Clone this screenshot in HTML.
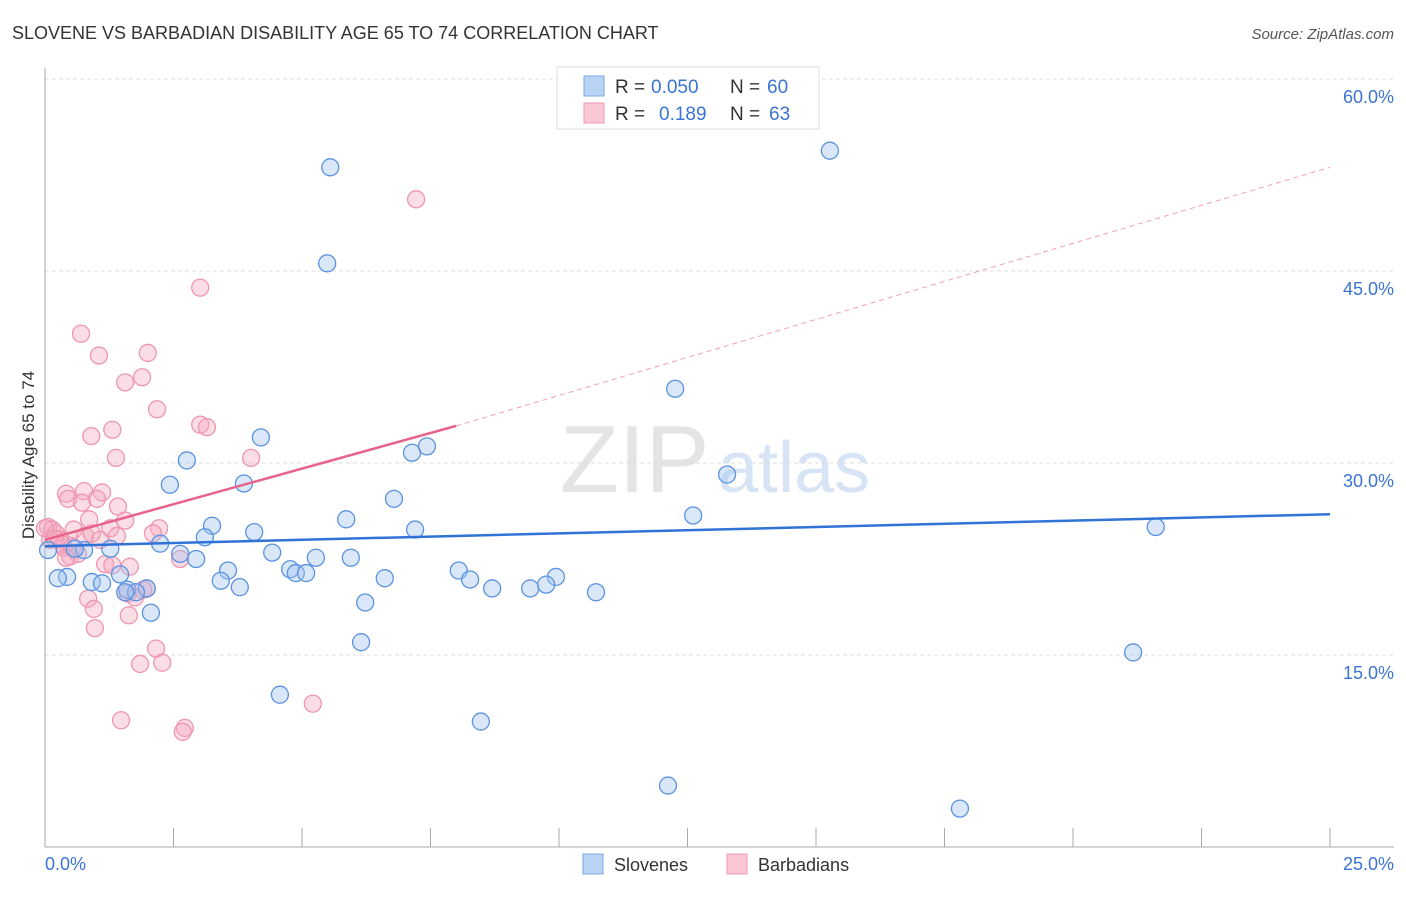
<!DOCTYPE html>
<html><head><meta charset="utf-8"><style>
body{margin:0;background:#fff;font-family:"Liberation Sans",sans-serif;}
svg text{font-family:"Liberation Sans",sans-serif;}
</style></head><body>
<svg id="chart" width="1406" height="892">
<text x="12" y="39" font-size="18" fill="#333">SLOVENE VS BARBADIAN DISABILITY AGE 65 TO 74 CORRELATION CHART</text>
<text x="1394" y="39" font-size="15" fill="#555" font-style="italic" text-anchor="end">Source: ZipAtlas.com</text>
<text x="560" y="492" font-size="96" fill="#e4e4e4" font-family="Liberation Serif">ZIP</text>
<text x="718" y="492" font-size="72" fill="#d6e4f5">atlas</text>
<g id="grid"></g><g id="pts"></g><g id="lines"></g>
<text x="34" y="455" font-size="17" fill="#333" transform="rotate(-90 34 455)" text-anchor="middle">Disability Age 65 to 74</text>
<text x="45" y="870" font-size="18" fill="#3b74d1">0.0%</text>
<text x="1394" y="870" font-size="18" fill="#3b74d1" text-anchor="end">25.0%</text>
<g>
<rect x="557" y="67" width="262" height="62" fill="#fff" stroke="#ddd"/>
<rect x="584" y="76" width="20" height="20" fill="#b9d3f5" stroke="#7aa7e6"/>
<rect x="584" y="103" width="20" height="20" fill="#f9c6d4" stroke="#ef9ab2"/>
<text x="615" y="93" font-size="19" fill="#333">R =</text>
<text x="651" y="93" font-size="19" fill="#3b74d1">0.050</text>
<text x="730" y="93" font-size="19" fill="#333">N =</text>
<text x="767" y="93" font-size="19" fill="#3b74d1">60</text>
<text x="615" y="120" font-size="19" fill="#333">R =</text>
<text x="659" y="120" font-size="19" fill="#3b74d1">0.189</text>
<text x="730" y="120" font-size="19" fill="#333">N =</text>
<text x="769" y="120" font-size="19" fill="#3b74d1">63</text>
</g>
<g>
<rect x="583" y="854" width="20" height="20" fill="#b9d3f5" stroke="#7aa7e6"/>
<text x="614" y="871" font-size="18" fill="#333">Slovenes</text>
<rect x="727" y="854" width="20" height="20" fill="#f9c6d4" stroke="#ef9ab2"/>
<text x="758" y="871" font-size="18" fill="#333">Barbadians</text>
</g>
</svg>
<script>
const yTicks=[15,30,45,60];
const blueX=[5.55,15.27,5.49,12.26,4.2,7.43,7.14,2.76,13.27,2.43,3.87,6.79,12.61,5.86,3.25,7.2,21.61,4.07,3.11,2.24,1.27,0.76,4.42,2.63,5.27,5.95,2.94,3.56,4.77,8.05,4.88,5.08,0.43,0.25,1.46,8.27,6.61,9.94,3.42,0.91,1.11,3.79,1.98,1.6,1.77,8.7,9.44,9.75,10.72,6.23,2.06,6.15,21.17,4.57,8.48,12.12,17.8,0.06,0.58,1.56];
const blueY=[53.1,54.4,45.6,35.8,32.0,31.3,30.8,30.2,29.1,28.3,28.4,27.2,25.9,25.6,25.1,24.8,25.0,24.6,24.2,23.7,23.3,23.2,23.0,22.9,22.6,22.6,22.5,21.6,21.7,21.6,21.4,21.4,21.1,21.0,21.3,20.9,21.0,21.1,20.8,20.7,20.6,20.3,20.2,20.1,19.9,20.2,20.2,20.5,19.9,19.1,18.3,16.0,15.2,11.9,9.8,4.8,3.0,23.2,23.3,19.9];
const pinkX=[7.22,3.02,0.7,1.05,2.0,1.89,1.56,2.18,3.02,3.15,1.31,0.9,1.38,4.01,0.41,0.76,1.11,1.01,0.45,0.72,1.42,1.56,0.86,1.27,2.22,2.1,0.06,0.14,0.21,0.56,1.4,0.78,0.29,2.63,0.37,0.64,0.49,1.17,1.31,1.65,1.61,1.98,0.84,0.95,0.97,1.63,2.16,1.85,2.28,1.48,5.21,2.72,2.68,0.1,0.35,0.53,0,0.19,1.07,0.41,0.91,1.75,1.91];
const pinkY=[50.6,43.7,40.1,38.4,38.6,36.7,36.3,34.2,33.0,32.8,32.6,32.1,30.4,30.4,27.6,27.8,27.7,27.2,27.2,26.9,26.6,25.5,25.6,24.9,24.9,24.5,25.0,24.8,24.5,24.8,24.3,24.3,24.0,22.5,23.4,22.9,22.7,22.1,22.0,21.9,19.8,20.2,19.4,18.6,17.1,18.1,15.5,14.3,14.4,9.9,11.2,9.3,9.0,24.0,23.6,23.4,24.9,24.1,24.0,22.6,24.5,19.5,20.1];
const blueFit=[23.5,26.0];
const pinkFit=[24.0,32.9,53.1];
const NS='http://www.w3.org/2000/svg';
const xs=v=>45+v*51.4, ys=v=>847-v*12.8;
function mk(t,a,p){const e=document.createElementNS(NS,t);for(const k in a)e.setAttribute(k,a[k]);p.appendChild(e);return e;}
const grid=document.getElementById('grid');
for(const t of yTicks){
 const l=mk('line',{x1:45,x2:1394,y1:ys(t),y2:ys(t),stroke:'#ddd','stroke-dasharray':'4,3'},grid);
 
 
 const tx=mk('text',{x:1394,y:ys(t)+24,'font-size':18,fill:'#3b74d1','text-anchor':'end'},grid);
 tx.textContent=t.toFixed(1)+'%';
 
 
}
const ax=mk('line',{x1:45,x2:45,y1:68,y2:847,stroke:'#aaa'},grid);


const bx=mk('line',{x1:45,x2:1394,y1:847,y2:847,stroke:'#aaa'},grid);


for(let i=0;i<=10;i++){const t=mk('line',{x1:xs(i*2.5),x2:xs(i*2.5),y1:828,y2:847,stroke:'#aaa'},grid);
 
 }
const pts=document.getElementById('pts');
pinkX.forEach((x,i)=>{const c=mk('circle',{cx:xs(x),cy:ys(pinkY[i]),r:8.5,fill:'rgba(246,170,192,0.4)',stroke:'#ee96b0','stroke-width':1.3},pts);
 
 });
blueX.forEach((x,i)=>{const c=mk('circle',{cx:xs(x),cy:ys(blueY[i]),r:8.5,fill:'rgba(160,195,240,0.4)',stroke:'#5b93e0','stroke-width':1.3},pts);
 
 });
const ln=document.getElementById('lines');
const b=mk('line',{x1:xs(0),y1:ys(blueFit[0]),x2:xs(25),y2:ys(blueFit[1]),stroke:'#2f73d6','stroke-width':2.5},ln);


const p=mk('line',{x1:xs(0),y1:ys(pinkFit[0]),x2:xs(8),y2:ys(pinkFit[1]),stroke:'#e8638c','stroke-width':2.5},ln);


const pd=mk('line',{x1:xs(8),y1:ys(pinkFit[1]),x2:xs(25),y2:ys(pinkFit[2]),stroke:'#eea0b8','stroke-width':1,'stroke-dasharray':'5,4'},ln);


</script>
</body></html>
